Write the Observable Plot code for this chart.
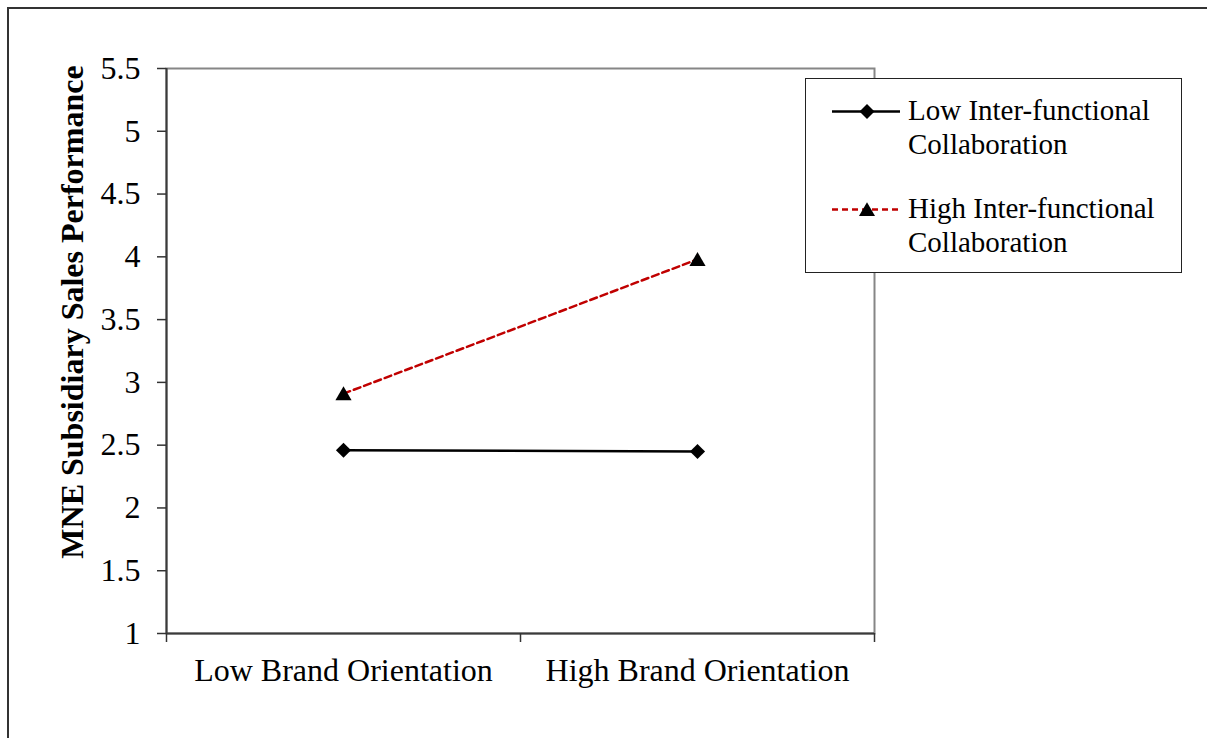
<!DOCTYPE html>
<html>
<head>
<meta charset="utf-8">
<script src="https://cdn.jsdelivr.net/npm/d3@7"></script>
<script src="https://cdn.jsdelivr.net/npm/@observablehq/plot@0.6"></script>
<style>
  html, body { margin: 0; padding: 0; background: #fff; overflow: hidden; }
  #wrap { position: relative; width: 1207px; height: 738px; font-family: "Liberation Serif", "Times New Roman", serif; }
  #outer { position: absolute; left: 7px; top: 7px; width: 1300px; height: 800px; border-left: 2px solid #333; border-top: 2px solid #333; }
  #chart { position: absolute; left: 0; top: 0; }
  #legend { position: absolute; left: 805px; top: 78px; width: 375px; height: 193px; border: 1.5px solid #222; background: #fff; }
  .entry { position: absolute; left: 0; width: 375px; }
  .entry svg { position: absolute; left: 26px; top: 0; }
  .entry .txt { position: absolute; left: 102px; top: 0; font-size: 29px; line-height: 34px; color: #000; white-space: nowrap; }
</style>
</head>
<body>
<div id="wrap">
  <div id="outer"></div>
  <div id="chart"></div>
  <div id="legend"></div>
</div>
<script>
// ---- data ----
const categories = ["Low Brand Orientation", "High Brand Orientation"];
const seriesNames = ["Low Inter-functional Collaboration", "High Inter-functional Collaboration"];
const lowIFC = [2.46, 2.45];
const highIFC = [2.91, 3.98];
const yTicks = [1, 1.5, 2, 2.5, 3, 3.5, 4, 4.5, 5, 5.5];
const yTitle = "MNE Subsidiary Sales Performance";

// build table
const lowData = categories.map((c, i) => ({pos: i + 0.5, value: lowIFC[i], series: seriesNames[0]}));
const highData = categories.map((c, i) => ({pos: i + 0.5, value: highIFC[i], series: seriesNames[1]}));
const boundaries = d3.range(categories.length + 1);
const centers = categories.map((c, i) => i + 0.5);

const RED = "#C00000";

const chart = Plot.plot({
  width: 1207,
  height: 738,
  marginLeft: 166,
  marginRight: 333,
  marginTop: 68,
  marginBottom: 105,
  style: {fontFamily: "'Liberation Serif', 'Times New Roman', serif", fontSize: "32px", color: "#000", background: "transparent"},
  x: {domain: [0, categories.length], axis: null},
  y: {domain: [1, 5.5], axis: null},
  marks: [
    Plot.frame({stroke: "#868686", strokeWidth: 2}),
    Plot.ruleX([0], {stroke: "#3a3a3a", strokeWidth: 2}),
    Plot.ruleY([1], {stroke: "#3a3a3a", strokeWidth: 2}),
    Plot.axisY(yTicks, {tickSize: 9, tickPadding: 17, stroke: "#333", strokeWidth: 1.5, fontSize: 32, tickFormat: d => String(d), label: null}),
    Plot.axisX(boundaries, {tickSize: 9, stroke: "#333", strokeWidth: 1.5, tickFormat: () => "", label: null}),
    Plot.axisX(centers, {tickSize: 0, tickPadding: 25, fontSize: 32, tickFormat: d => categories[Math.floor(d)], label: null}),
    Plot.text([yTitle], {frameAnchor: "left", textAnchor: "middle", rotate: -90, dx: -94, dy: -39, fontWeight: "bold", fontSize: 32, fill: "#000"}),
    Plot.line(lowData, {x: "pos", y: "value", stroke: "#000", strokeWidth: 2.5}),
    Plot.line(highData, {x: "pos", y: "value", stroke: RED, strokeWidth: 2.5, strokeDasharray: "7,4"}),
    Plot.dot(lowData, {x: "pos", y: "value", symbol: "diamond2", r: 6.8, fill: "#000", stroke: "none"}),
    Plot.dot(highData, {x: "pos", y: "value", symbol: "triangle", r: 6, dy: 2, fill: "#000", stroke: "none"})
  ]
});
document.getElementById("chart").appendChild(chart);

// ---- legend ----
const legend = document.getElementById("legend");
const entries = [
  {lines: ["Low Inter-functional", "Collaboration"], color: "#000", dash: null, symbol: d3.symbolDiamond2, size: 144, top: 14},
  {lines: ["High Inter-functional", "Collaboration"], color: RED, dash: "6,4", symbol: d3.symbolTriangle, size: 111, top: 112}
];
entries.forEach(e => {
  const div = document.createElement("div");
  div.className = "entry";
  div.style.top = e.top + "px";
  const svgNS = "http://www.w3.org/2000/svg";
  const svg = document.createElementNS(svgNS, "svg");
  svg.setAttribute("width", 70);
  svg.setAttribute("height", 40);
  const line = document.createElementNS(svgNS, "line");
  line.setAttribute("x1", 0); line.setAttribute("x2", 68);
  line.setAttribute("y1", 18.5); line.setAttribute("y2", 18.5);
  line.setAttribute("stroke", e.color);
  line.setAttribute("stroke-width", 2.5);
  if (e.dash) line.setAttribute("stroke-dasharray", e.dash);
  svg.appendChild(line);
  const p = document.createElementNS(svgNS, "path");
  p.setAttribute("d", d3.symbol(e.symbol, e.size)());
  p.setAttribute("transform", `translate(35,${e.symbol === d3.symbolTriangle ? 20.5 : 18.5})`);
  p.setAttribute("fill", "#000");
  svg.appendChild(p);
  div.appendChild(svg);
  const t = document.createElement("div");
  t.className = "txt";
  t.innerHTML = e.lines.join("<br>");
  div.appendChild(t);
  legend.appendChild(div);
});
</script>
</body>
</html>
